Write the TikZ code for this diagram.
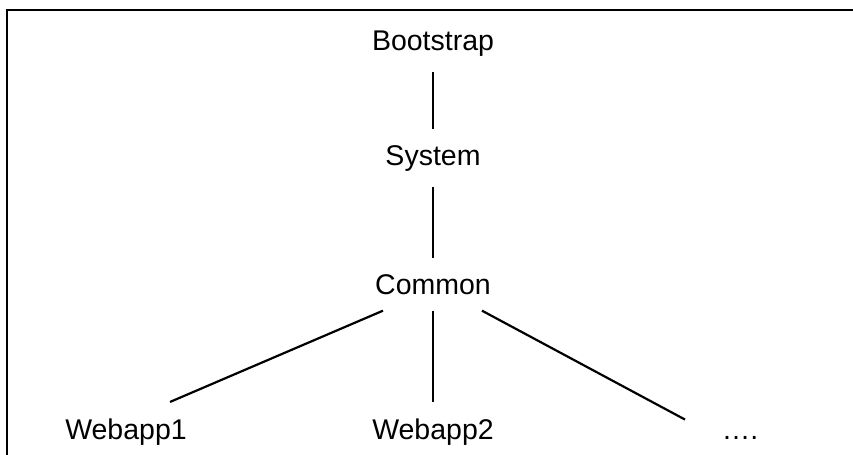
\documentclass[tikz,border=0pt]{standalone}
\usepackage{fontspec}
\setmainfont{Liberation Sans}
\usetikzlibrary{positioning,calc}
\tikzset{
  layer/.style={inner xsep=0pt,inner ysep=8pt,font=\fontsize{14.25pt}{17pt}\selectfont},
  link/.style={line width=1.1pt,black}
}
\begin{document}
\begin{tikzpicture}[x=0.5pt,y=-0.5pt]
  \useasboundingbox (0,0) rectangle (853,455);
  % frame, open to the right and bottom
  \draw[line width=1.1pt] (853,10) -- (7,10) -- (7,455);
  \node[layer,anchor=base] (boot)   at (433,50)  {Bootstrap};
  \node[layer,anchor=base] (sys)    at (433,165) {System};
  \node[layer,anchor=base] (common) at (433,294) {Common};
  \node[layer,anchor=base] (web1)   at (126,439) {Webapp1};
  \node[layer,anchor=base] (web2)   at (433,439) {Webapp2};
  \node[layer,anchor=base] (dots)   at (740,439) {….};
  \foreach \a/\b in {boot/sys,sys/common,common/web2}
    \draw[link] (\a) -- (\b);
  \draw[link] ($(common.south)+(-50,0)$) -- ($(web1.north)+(44,0)$);
  \draw[link] ($(common.south)+(49,0)$) -- ($(dots.north)+(-55,0)$);
\end{tikzpicture}
\end{document}
